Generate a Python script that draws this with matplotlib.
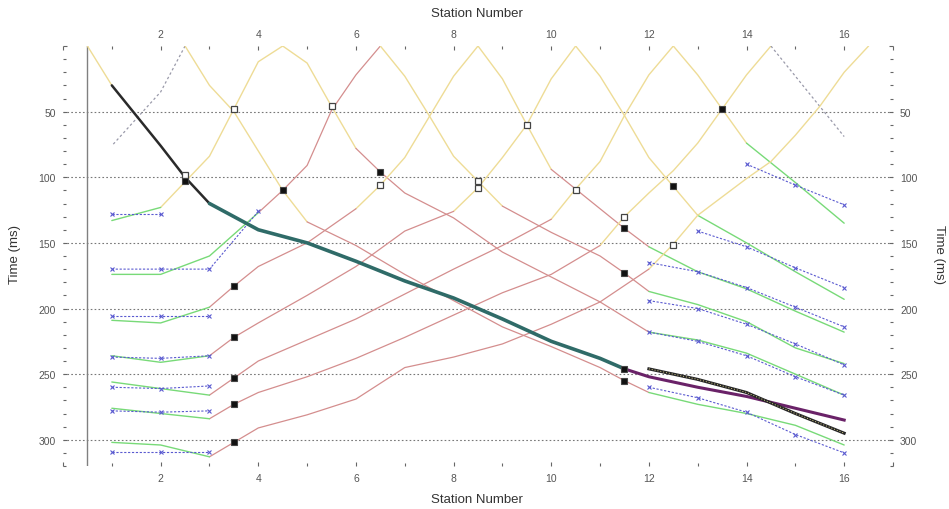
import matplotlib
matplotlib.use("Agg")
import matplotlib.pyplot as plt
from matplotlib.ticker import MultipleLocator

plt.rcParams['font.family'] = ['Liberation Sans', 'DejaVu Sans']

# travel time branches: station positions, first-break times (ms), one colour code per segment
# y = direct (yellow), r = refractor 1 (red), g = refractor 2 (green), k/c = thick traces, d = dashed
s05_rx = [0.5, 1, 2, 2.5, 3, 4, 5, 6, 7, 8, 9, 10, 11, 11.5]
s05_rt = [0, 30, 76, 100, 120, 140, 150, 164, 179, 192, 208, 225, 238, 246]
s05_rc = "ykkkccccccccc"

s25_lx = [2.5, 2, 1]
s25_lt = [0, 35, 76]
s25_lc = "dd"
s25_rx = [2.5, 3, 3.5, 4, 4.5, 5, 6, 7, 8, 9, 10, 11, 11.5, 12, 13, 14, 15, 16]
s25_rt = [0, 30, 50, 80, 110, 134, 152, 174, 194, 214, 229, 245, 255, 264, 273, 280, 289, 304]
s25_rc = "yyyyyrrrrrrrrgggg"

s45_lx = [4.5, 4, 3.5, 3, 2, 1]
s45_lt = [0, 12, 48, 84, 123, 133]
s45_lc = "yyyyg"
s45_rx = [4.5, 5, 5.5, 6, 6.5, 7, 8, 9, 10, 11, 12, 13, 14, 15, 16]
s45_rt = [0, 13, 46, 78, 96, 112, 131, 157, 176, 195, 218, 224, 234, 250, 266]
s45_rc = "yyyrrrrrrrgggg"

s65_lx = [6.5, 6, 5.5, 5, 4.5, 4, 3, 2, 1]
s65_lt = [0, 22, 49, 91, 110, 127, 160, 174, 174]
s65_lc = "rrrrrggg"
s65_rx = [6.5, 7, 7.5, 8, 8.5, 9, 10, 11, 11.5, 12, 13, 14, 15, 16]
s65_rt = [0, 23, 53, 84, 103, 122, 142, 160, 173, 187, 197, 210, 230, 242]
s65_rc = "yyyyyrrrrgggg"

s85_lx = [8.5, 8, 7.5, 7, 6.5, 6, 5, 4, 3.5, 3, 2, 1]
s85_lt = [0, 23, 54, 85, 106, 124, 150, 168, 183, 199, 211, 209]
s85_lc = "yyyyyrrrrgg"
s85_rx = [8.5, 9, 9.5, 10, 10.5, 11, 11.5, 12, 13, 14, 15, 16]
s85_rt = [0, 25, 60, 94, 109, 124, 139, 153, 172, 185, 202, 218]
s85_rc = "yyyrrrrgggg"

s105_lx = [10.5, 10, 9.5, 9, 8.5, 8, 7, 6, 5, 4, 3.5, 3, 2, 1]
s105_lt = [0, 25, 60, 85, 108, 126, 141, 168, 190, 211, 222, 236, 241, 236]
s105_lc = "yyyyyrrrrrrgg"
s105_rx = [10.5, 11, 11.5, 12, 12.5, 13, 14, 15, 16]
s105_rt = [0, 23, 53, 85, 107, 129, 150, 172, 193]
s105_rc = "yyyyyggg"

s125_lx = [12.5, 12, 11.5, 11, 10.5, 10, 9, 8, 7, 6, 5, 4, 3.5, 3, 2, 1]
s125_lt = [0, 22, 53, 88, 109, 132, 152, 170, 189, 208, 224, 240, 253, 266, 261, 256]
s125_lc = "yyyyyrrrrrrrrgg"
s125_rx = [12.5, 13, 13.5, 14, 15, 16]
s125_rt = [0, 22, 48, 74, 104, 135]
s125_rc = "yyygg"

s145_lx = [14.5, 14, 13.5, 13, 12.5, 12, 11.5, 11, 10, 9, 8, 7, 6, 5, 4, 3.5, 3, 2, 1]
s145_lt = [0, 22, 48, 74, 95, 112, 130, 152, 174, 188, 205, 222, 238, 252, 264, 273, 284, 280, 276]
s145_lc = "yyyyyyyrrrrrrrrrgg"
s145_rx = [14.5, 15, 16]
s145_rt = [0, 23, 69]
s145_rc = "dd"

s165_lx = [16.5, 16, 15.5, 15, 14.5, 14, 13.5, 13, 12.5, 12, 11, 10, 9, 8, 7, 6, 5, 4, 3.5, 3, 2, 1]
s165_lt = [0, 20, 46, 68, 88, 101, 115, 129, 151, 170, 195, 212, 227, 237, 245, 269, 281, 291, 302, 313, 304, 302]
s165_lc = "yyyyyyyyyrrrrrrrrrrgg"

# thick traces beyond station 11.5
black_x = [12, 13, 14, 15, 16]
black_t = [246, 254, 264, 280, 295]
purple_x = [11.5, 12, 13, 14, 15, 16]
purple_t = [246, 252, 260, 267, 276, 285]

# calculated times (blue, dotted with crosses)
calc_left_x = [[1, 2], [1, 2, 3, 4], [1, 2, 3], [1, 2, 3], [1, 2, 3], [1, 2, 3], [1, 2, 3]]
calc_left_t = [[128, 128], [170, 170, 170, 126], [206, 206, 206], [237, 238, 236],
               [260, 261, 259], [278, 279, 278], [309, 309, 309]]
calc_right_x = [[12, 13, 14, 15, 16], [12, 13, 14, 15, 16], [12, 13, 14, 15, 16],
                [12, 13, 14, 15, 16], [13, 14, 15, 16], [14, 15, 16]]
calc_right_t = [[260, 268, 279, 296, 310], [218, 225, 236, 252, 266], [194, 200, 212, 227, 243],
                [165, 172, 184, 199, 214], [141, 153, 169, 184], [90, 106, 121]]

# reciprocal markers
open_x = [2.5, 3.5, 5.5, 6.5, 8.5, 8.5, 9.5, 10.5, 11.5, 12.5]
open_t = [98, 48, 45.5, 106, 103, 108, 60, 109.5, 130, 151.5]
solid_x = [2.5, 4.5, 6.5, 13.5, 12.5, 11.5, 11.5, 11.5, 11.5, 3.5, 3.5, 3.5, 3.5, 3.5]
solid_t = [103, 110, 96, 48, 106.5, 139, 173, 246, 255, 183, 222, 253, 273, 302]

grid_t = [50, 100, 150, 200, 250, 300]

STYLES = {
    'y': dict(color='#eedc96', lw=1.0, zorder=2),
    'r': dict(color='#d48e8e', lw=0.9, zorder=2),
    'g': dict(color='#78da78', lw=1.0, zorder=2),
    'k': dict(color='#2a2a2a', lw=1.8, zorder=5),
    'c': dict(color='#2f6b68', lw=2.6, zorder=5),
    'd': dict(color='#9a9aaa', lw=0.9, ls=(0, (2, 2)), zorder=2),
}

fig = plt.figure(figsize=(9.49, 5.10), dpi=100)
ax = fig.add_axes([63 / 949, 43 / 510, 830 / 949, 420 / 510])


def draw_branch(xs, ts, codes):
    i = 0
    while i < len(codes):
        j = i
        while j < len(codes) and codes[j] == codes[i]:
            j += 1
        ax.plot(xs[i:j + 1], ts[i:j + 1], solid_capstyle='round', **STYLES[codes[i]])
        i = j


for t in grid_t:
    ax.axhline(t, color='#777777', lw=0.8, ls=(0, (1.5, 2)), zorder=1)
ax.axvline(0.5, color='#808080', lw=1.0, zorder=1)

branches = [
    (s05_rx, s05_rt, s05_rc),
    (s25_lx, s25_lt, s25_lc), (s25_rx, s25_rt, s25_rc),
    (s45_lx, s45_lt, s45_lc), (s45_rx, s45_rt, s45_rc),
    (s65_lx, s65_lt, s65_lc), (s65_rx, s65_rt, s65_rc),
    (s85_lx, s85_lt, s85_lc), (s85_rx, s85_rt, s85_rc),
    (s105_lx, s105_lt, s105_lc), (s105_rx, s105_rt, s105_rc),
    (s125_lx, s125_lt, s125_lc), (s125_rx, s125_rt, s125_rc),
    (s145_lx, s145_lt, s145_lc), (s145_rx, s145_rt, s145_rc),
    (s165_lx, s165_lt, s165_lc),
]
for xs, ts, codes in branches:
    draw_branch(xs, ts, codes)

for xs, ts in zip(calc_left_x + calc_right_x, calc_left_t + calc_right_t):
    ax.plot(xs, ts, color='#5a5ad0', lw=0.8, ls=(0, (2, 1.5)), marker='x', ms=3,
            mew=0.8, zorder=3)

ax.plot(purple_x, purple_t, color='#6a2268', lw=2.2, zorder=5)
ax.plot(black_x, black_t, color='#262626', lw=2.2, zorder=6)
ax.plot(black_x, black_t, color='#d8cf8a', lw=0.7, ls=(0, (1, 2)), zorder=7)

ax.plot(open_x, open_t, ls='none', marker='s', ms=4.5, mfc='white', mec='#444444',
        mew=0.9, zorder=8)
ax.plot(solid_x, solid_t, ls='none', marker='s', ms=4.5, mfc='#111111', mec='#444444',
        mew=0.8, zorder=8)

ax.set_xlim(0, 17)
ax.set_ylim(320, 0)
for s in ax.spines.values():
    s.set_visible(False)

ax.xaxis.set_major_locator(MultipleLocator(2))
ax.xaxis.set_minor_locator(MultipleLocator(1))
ax.yaxis.set_major_locator(MultipleLocator(50))
ax.yaxis.set_minor_locator(MultipleLocator(10))
ax.set_xticks([0, 2, 4, 6, 8, 10, 12, 14, 16, 17])
ax.set_xticklabels(['', '2', '4', '6', '8', '10', '12', '14', '16', ''])
ax.set_yticks([0, 50, 100, 150, 200, 250, 300])
ax.set_yticklabels(['', '50', '100', '150', '200', '250', '300'])
ax.tick_params(which='both', top=True, bottom=True, left=True, right=True,
               labeltop=True, labelbottom=True, labelleft=True, labelright=True,
               direction='in', length=3, width=0.8, color='#666666',
               labelsize=7.5, labelcolor='#555555', pad=5)
ax.tick_params(which='minor', length=2)

fig.text(0.503, 0.972, 'Station Number', ha='center', va='center', fontsize=9.5, color='#333333')
fig.text(0.503, 0.020, 'Station Number', ha='center', va='center', fontsize=9.5, color='#333333')
fig.text(0.016, 0.5, 'Time (ms)', ha='center', va='center', rotation=90, fontsize=9.5, color='#333333')
fig.text(0.989, 0.5, 'Time (ms)', ha='center', va='center', rotation=270, fontsize=9.5, color='#333333')

fig.savefig('out.png', dpi=100, facecolor='white')
